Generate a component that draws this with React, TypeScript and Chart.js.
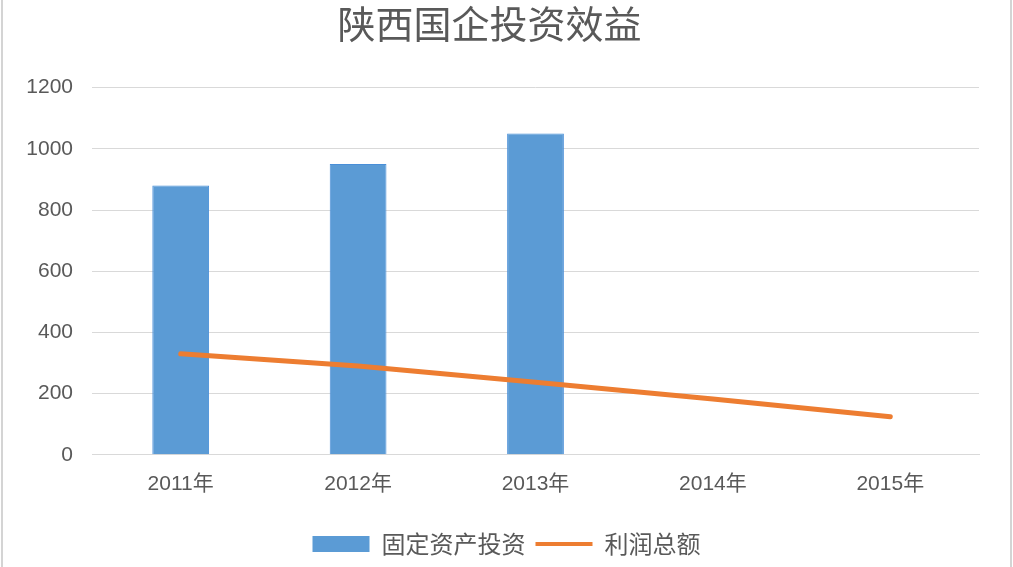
import React, { useEffect, useRef } from "react";
import { Chart, registerables } from "chart.js";

Chart.register(...registerables);

const categories = ["2011年", "2012年", "2013年", "2014年", "2015年"];
const fixedInvestment = [880, 950, 1050, null, null];
const totalProfit = [330, 290, 237, 182, 124];
const yTicks = [0, 200, 400, 600, 800, 1000, 1200];

const FONT = "'Liberation Sans', 'Noto Sans CJK SC', sans-serif";
const CJK = "'Noto Sans CJK SC', sans-serif";
const TEXT = "#595959";
const BLUE = "#5b9bd5";
const ORANGE = "#ed7d31";

const centerLegend = {
  id: "centerLegend",
  afterLayout(chart: any) {
    if (chart.legend) {
      chart.legend.left = 0;
      chart.legend.right = chart.width;
    }
  },
};

export default function App() {
  const ref = useRef<HTMLCanvasElement | null>(null);

  useEffect(() => {
    if (!ref.current) return;
    document.body.style.margin = "0";
    const chart = new Chart(ref.current, {
      type: "bar",
      plugins: [centerLegend],
      data: {
        labels: categories,
        datasets: [
          {
            type: "bar",
            label: "固定资产投资",
            data: fixedInvestment,
            backgroundColor: BLUE,
            borderColor: "#4a8fd8",
            borderWidth: 1,
            categoryPercentage: 0.8,
            barPercentage: 0.4,
            order: 2,
          },
          {
            type: "line",
            label: "利润总额",
            data: totalProfit,
            borderColor: ORANGE,
            backgroundColor: ORANGE,
            borderWidth: 5,
            pointRadius: 0,
            tension: 0,
            borderCapStyle: "round",
            order: 1,
          },
        ],
      },
      options: {
        responsive: true,
        maintainAspectRatio: false,
        animation: false,
        layout: { padding: { left: 0, right: 34, top: 0, bottom: 1 } },
        plugins: {
          title: {
            display: true,
            text: "陕西国企投资效益",
            color: TEXT,
            font: { family: CJK, size: 38, weight: "normal" },
            padding: { top: 1, bottom: 41 },
          },
          tooltip: { enabled: false },
          legend: {
            position: "bottom",
            labels: {
              color: TEXT,
              font: { family: CJK, size: 24 },
              usePointStyle: true,
              pointStyleWidth: 57,
              boxHeight: 16,
              padding: 10,
              generateLabels: () => [
                {
                  text: "固定资产投资",
                  fillStyle: BLUE,
                  strokeStyle: BLUE,
                  lineWidth: 0,
                  pointStyle: "rect",
                  fontColor: TEXT,
                  datasetIndex: 0,
                  hidden: false,
                },
                {
                  text: "利润总额",
                  fillStyle: ORANGE,
                  strokeStyle: ORANGE,
                  lineWidth: 4,
                  pointStyle: "line",
                  fontColor: TEXT,
                  datasetIndex: 1,
                  hidden: false,
                },
              ],
            },
          },
        },
        scales: {
          x: {
            grid: { display: false },
            border: { display: true, color: "#d9d9d9", width: 1 },
            afterFit: (scale: any) => {
              scale.height = scale.height + 16;
            },
            ticks: {
              color: TEXT,
              font: { family: FONT, size: 21 },
              padding: 9,
            },
          },
          y: {
            min: 0,
            max: 1200,
            afterBuildTicks: (scale: any) => {
              scale.ticks = yTicks.map((v) => ({ value: v }));
            },
            afterFit: (scale: any) => {
              scale.width = 92;
            },
            grid: { color: "#d9d9d9", lineWidth: 1, drawTicks: false },
            border: { display: false },
            ticks: {
              color: TEXT,
              font: { family: FONT, size: 21 },
              padding: 19,
              callback: (v: any) => String(v),
            },
          },
        },
      },
    });
    return () => chart.destroy();
  }, []);

  return (
    <div style={{ position: "fixed", left: 0, top: 0, width: 1013, height: 567, background: "#fff" }}>
      <canvas ref={ref} />
      <div
        style={{
          position: "absolute",
          left: 1,
          top: 0,
          width: 1007,
          height: 567,
          borderLeft: "2px solid #d4d4d4",
          borderRight: "2px solid #d4d4d4",
          pointerEvents: "none",
        }}
      />
    </div>
  );
}
